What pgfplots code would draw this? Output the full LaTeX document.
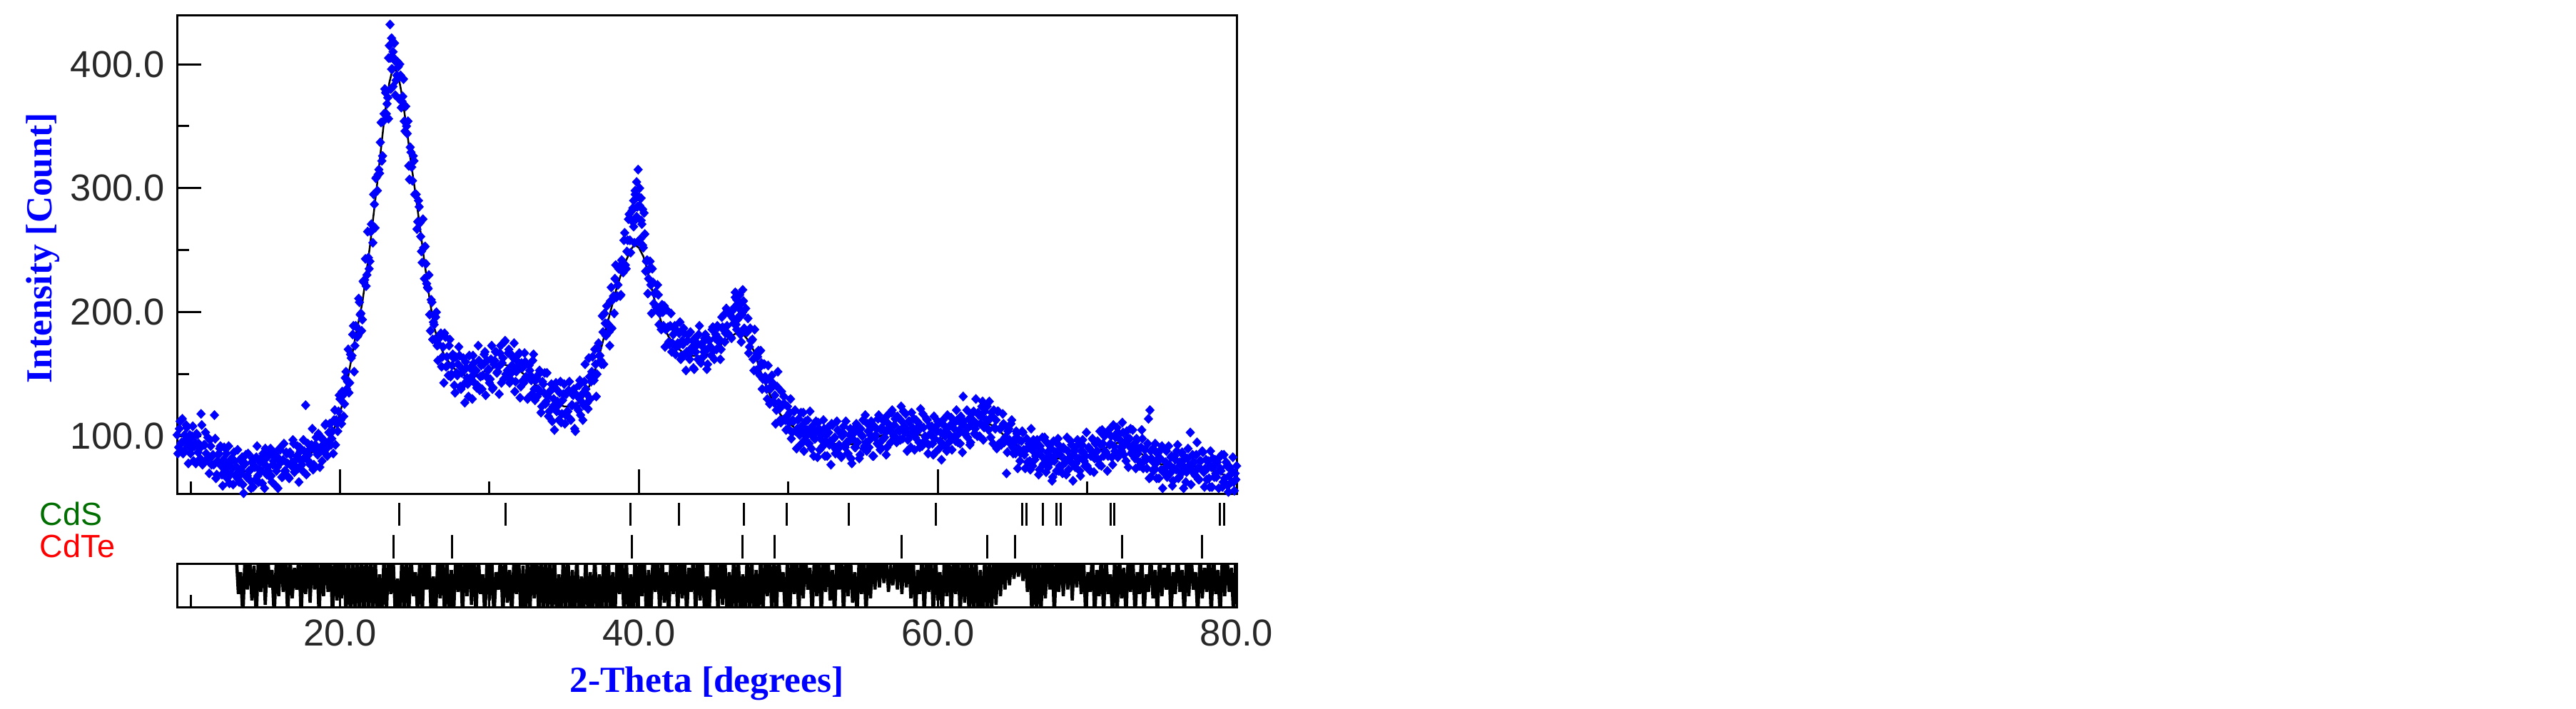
\documentclass[border=0pt]{standalone}
\usepackage{fontspec}
\setmainfont{Liberation Sans}
\newfontfamily\labfont{Liberation Serif}
\usepackage{pgfplots}
\pgfplotsset{compat=1.18}
\definecolor{cdsgreen}{RGB}{0,110,0}
\definecolor{tickgray}{RGB}{40,40,40}
\pgfplotsset{xrd/.style={scale only axis, width=297pt, xmin=9.09, xmax=80,
  tick align=inside, xtick pos=bottom, ytick pos=left,
  major tick length=6.8pt, minor tick length=3.4pt,
  axis line style={line width=0.6pt}, tick style={line width=0.6pt, black},
  tick label style={font=\fontsize{10.5}{12}\selectfont, text=tickgray},
  /pgf/number format/assume math mode=true},
  obs/.style={only marks, mark=diamond*, mark size=1.25pt, blue, mark options={xscale=1.25, draw=blue, fill=blue, line width=0.2pt}}}
\begin{document}
\begin{tikzpicture}
\useasboundingbox (0,0) rectangle (722pt,198.6pt);
% main pattern
\begin{axis}[xrd, at={(49.6pt,60.2pt)}, anchor=south west, height=134.06pt,
  ymin=53.7, ymax=439.3, xtick={20,40,60}, minor xtick={10,30,50,70}, xticklabels={},
  ytick={100,200,300,400}, minor ytick={150,250,350},
  yticklabel style={/pgf/number format/.cd, fixed, fixed zerofill, precision=1}]
\addplot[obs] coordinates {
(9.1,101)(9.2,91)(9.3,112)(9.4,95)(9.5,86)(9.6,101)(9.7,109)(9.8,92)(9.9,95)(10,86)
(10.1,100)(10.2,80)(10.3,95)(10.4,102)(10.5,87)(10.6,90)(10.7,118)(10.8,77)(10.9,93)(11,103)
(11.1,81)(11.2,83)(11.3,97)(11.4,77)(11.5,85)(11.6,117)(11.7,66)(11.8,80)(11.9,86)(12,92)
(12.1,69)(12.2,81)(12.3,72)(12.4,86)(12.5,75)(12.6,62)(12.7,80)(12.8,74)(12.9,87)(13,68)
(13.1,75)(13.2,65)(13.3,81)(13.4,70)(13.5,61)(13.6,77)(13.7,85)(13.8,68)(13.9,72)(14,64)
(14.1,79)(14.2,59)(14.3,75)(14.4,83)(14.5,68)(14.6,73)(14.7,82)(14.8,62)(14.9,78)(15,90)
(15.1,69)(15.2,72)(15.3,86)(15.4,68)(15.5,77)(15.6,83)(15.7,60)(15.8,75)(15.9,82)(16,89)
(16.1,67)(16.2,81)(16.3,72)(16.4,87)(16.5,78)(16.6,66)(16.7,85)(16.8,79)(16.9,94)(17,76)
(17.1,84)(17.2,74)(17.3,91)(17.4,80)(17.5,72)(17.6,88)(17.7,125)(17.8,81)(17.9,85)(18,77)
(18.1,93)(18.2,73)(18.3,90)(18.4,99)(18.5,85)(18.6,89)(18.7,99)(18.8,80)(18.9,97)(19,109)
(19.1,90)(19.2,95)(19.3,110)(19.4,93)(19.5,104)(19.6,113)(19.7,93)(19.8,110)(19.9,120)(20,130)
(20.1,110)(20.2,133)(20.3,126)(20.4,152)(20.5,144)(20.6,135)(20.7,166)(20.8,165)(20.9,189)(21,173)
(21.1,188)(21.2,181)(21.3,208)(21.4,199)(21.5,194)(21.6,224)(21.7,243)(21.8,230)(21.9,244)(22,241)
(22.1,271)(22.2,256)(22.3,287)(22.4,308)(22.5,298)(22.6,315)(22.7,337)(22.8,322)(22.9,354)(23,380)
(23.1,360)(23.2,373)(23.3,415)(23.4,380)(23.5,396)(23.6,405)(23.7,375)(23.8,391)(23.9,398)(24,400)
(24.1,365)(24.2,374)(24.3,354)(24.4,366)(24.5,344)(24.6,318)(24.7,333)(24.8,317)(24.9,326)(25,295)
(25.1,295)(25.2,273)(25.3,285)(25.4,261)(25.5,240)(25.6,252)(25.7,253)(25.8,223)(25.9,219)(26,198)
(26.1,210)(26.2,178)(26.3,190)(26.4,196)(26.5,173)(26.6,174)(26.7,182)(26.8,156)(26.9,172)(27,183)
(27.1,156)(27.2,157)(27.3,173)(27.4,148)(27.5,157)(27.6,163)(27.7,135)(27.8,151)(27.9,158)(28,165)
(28.1,138)(28.2,154)(28.3,142)(28.4,160)(28.5,147)(28.6,132)(28.7,155)(28.8,148)(28.9,165)(29,143)
(29.1,153)(29.2,141)(29.3,161)(29.4,148)(29.5,138)(29.6,158)(29.7,168)(29.8,148)(29.9,153)(30,143)
(30.1,162)(30.2,138)(30.3,158)(30.4,168)(30.5,151)(30.6,156)(30.7,167)(30.8,143)(30.9,163)(31,176)
(31.1,150)(31.2,153)(31.3,170)(31.4,146)(31.5,157)(31.6,163)(31.7,136)(31.8,152)(31.9,160)(32,167)
(32.1,140)(32.2,155)(32.3,143)(32.4,160)(32.5,147)(32.6,131)(32.7,153)(32.8,145)(32.9,161)(33,138)
(33.1,145)(33.2,132)(33.3,150)(33.4,136)(33.5,124)(33.6,142)(33.7,151)(33.8,128)(33.9,132)(34,120)
(34.1,137)(34.2,112)(34.3,130)(34.4,139)(34.5,120)(34.6,125)(34.7,135)(34.8,111)(34.9,129)(35,142)
(35.1,117)(35.2,120)(35.3,137)(35.4,114)(35.5,125)(35.6,133)(35.7,106)(35.8,124)(35.9,132)(36,141)
(36.1,117)(36.2,134)(36.3,125)(36.4,158)(36.5,134)(36.6,122)(36.7,148)(36.8,144)(36.9,164)(37,145)
(37.1,158)(37.2,150)(37.3,175)(37.4,165)(37.5,158)(37.6,184)(37.7,199)(37.8,181)(37.9,191)(38,184)
(38.1,209)(38.2,187)(38.3,213)(38.4,227)(38.5,212)(38.6,222)(38.7,237)(38.8,214)(38.9,239)(39,258)
(39.1,238)(39.2,249)(39.3,275)(39.4,258)(39.5,274)(39.6,284)(39.7,256)(39.8,275)(39.9,285)(40,293)
(40.1,259)(40.2,271)(40.3,252)(40.4,263)(40.5,241)(40.6,215)(40.7,235)(40.8,222)(40.9,235)(41,207)
(41.1,216)(41.2,202)(41.3,214)(41.4,199)(41.5,186)(41.6,200)(41.7,205)(41.8,186)(41.9,187)(42,176)
(42.1,189)(42.2,168)(42.3,182)(42.4,189)(42.5,172)(42.6,175)(42.7,183)(42.8,162)(42.9,177)(43,187)
(43.1,166)(43.2,168)(43.3,182)(43.4,162)(43.5,171)(43.6,177)(43.7,154)(43.8,168)(43.9,175)(44,182)
(44.1,160)(44.2,173)(44.3,164)(44.4,179)(44.5,169)(44.6,158)(44.7,177)(44.8,172)(44.9,186)(45,169)
(45.1,179)(45.2,170)(45.3,188)(45.4,178)(45.5,170)(45.6,188)(45.7,198)(45.8,183)(45.9,189)(46,182)
(46.1,198)(46.2,179)(46.3,195)(46.4,204)(46.5,190)(46.6,194)(46.7,203)(46.8,182)(46.9,198)(47,209)
(47.1,185)(47.2,184)(47.3,195)(47.4,172)(47.5,177)(47.6,178)(47.7,153)(47.8,164)(47.9,167)(48,169)
(48.1,149)(48.2,159)(48.3,146)(48.4,158)(48.5,145)(48.6,130)(48.7,146)(48.8,138)(48.9,149)(49,128)
(49.1,133)(49.2,121)(49.3,152)(49.4,122)(49.5,111)(49.6,125)(49.7,132)(49.8,113)(49.9,116)(50,106)
(50.1,119)(50.2,98)(50.3,113)(50.4,120)(50.5,104)(50.6,106)(50.7,114)(50.8,93)(50.9,108)(51,119)
(51.1,97)(51.2,100)(51.3,113)(51.4,94)(51.5,102)(51.6,108)(51.7,84)(51.8,98)(51.9,104)(52,111)
(52.1,89)(52.2,101)(52.3,92)(52.4,106)(52.5,96)(52.6,84)(52.7,103)(52.8,96)(52.9,110)(53,92)
(53.1,99)(53.2,89)(53.3,105)(53.4,93)(53.5,84)(53.6,100)(53.7,108)(53.8,91)(53.9,95)(54,86)
(54.1,101)(54.2,82)(54.3,98)(54.4,106)(54.5,91)(54.6,95)(54.7,105)(54.8,85)(54.9,101)(55,113)
(55.1,92)(55.2,95)(55.3,110)(55.4,91)(55.5,101)(55.6,107)(55.7,84)(55.8,99)(55.9,106)(56,114)
(56.1,92)(56.2,105)(56.3,97)(56.4,112)(56.5,103)(56.6,91)(56.7,110)(56.8,105)(56.9,119)(57,102)
(57.1,109)(57.2,99)(57.3,116)(57.4,105)(57.5,97)(57.6,112)(57.7,120)(57.8,103)(57.9,106)(58,97)
(58.1,112)(58.2,91)(58.3,107)(58.4,114)(58.5,99)(58.6,103)(58.7,111)(58.8,91)(58.9,107)(59,118)
(59.1,96)(59.2,99)(59.3,113)(59.4,93)(59.5,102)(59.6,108)(59.7,85)(59.8,98)(59.9,105)(60,112)
(60.1,90)(60.2,103)(60.3,94)(60.4,109)(60.5,100)(60.6,88)(60.7,107)(60.8,101)(60.9,115)(61,98)
(61.1,106)(61.2,96)(61.3,113)(61.4,102)(61.5,94)(61.6,110)(61.7,132)(61.8,102)(61.9,107)(62,99)
(62.1,114)(62.2,95)(62.3,111)(62.4,120)(62.5,106)(62.6,110)(62.7,119)(62.8,100)(62.9,116)(63,128)
(63.1,107)(63.2,110)(63.3,124)(63.4,105)(63.5,114)(63.6,119)(63.7,94)(63.8,107)(63.9,113)(64,120)
(64.1,94)(64.2,106)(64.3,96)(64.4,110)(64.5,99)(64.6,70)(64.7,104)(64.8,97)(64.9,110)(65,91)
(65.1,97)(65.2,86)(65.3,102)(65.4,90)(65.5,80)(65.6,96)(65.7,103)(65.8,85)(65.9,89)(66,79)
(66.1,94)(66.2,73)(66.3,89)(66.4,97)(66.5,81)(66.6,85)(66.7,93)(66.8,73)(66.9,89)(67,99)
(67.1,78)(67.2,81)(67.3,95)(67.4,75)(67.5,84)(67.6,90)(67.7,67)(67.8,80)(67.9,87)(68,94)
(68.1,72)(68.2,85)(68.3,76)(68.4,91)(68.5,81)(68.6,69)(68.7,88)(68.8,82)(68.9,96)(69,78)
(69.1,85)(69.2,75)(69.3,92)(69.4,81)(69.5,72)(69.6,88)(69.7,97)(69.8,80)(69.9,84)(70,76)
(70.1,91)(70.2,72)(70.3,88)(70.4,97)(70.5,82)(70.6,87)(70.7,96)(70.8,77)(70.9,93)(71,105)
(71.1,84)(71.2,88)(71.3,102)(71.4,84)(71.5,93)(71.6,100)(71.7,77)(71.8,92)(71.9,99)(72,107)
(72.1,84)(72.2,97)(72.3,88)(72.4,103)(72.5,93)(72.6,80)(72.7,99)(72.8,92)(72.9,106)(73,87)
(73.1,93)(73.2,82)(73.3,98)(73.4,86)(73.5,76)(73.6,91)(73.7,98)(73.8,80)(73.9,83)(74,74)
(74.1,114)(74.2,121)(74.3,82)(74.4,90)(74.5,74)(74.6,78)(74.7,86)(74.8,66)(74.9,82)(75,92)
(75.1,71)(75.2,74)(75.3,88)(75.4,69)(75.5,77)(75.6,83)(75.7,60)(75.8,74)(75.9,81)(76,88)
(76.1,66)(76.2,79)(76.3,70)(76.4,85)(76.5,75)(76.6,63)(76.7,82)(76.8,76)(76.9,103)(77,72)
(77.1,79)(77.2,69)(77.3,85)(77.4,74)(77.5,65)(77.6,80)(77.7,88)(77.8,71)(77.9,74)(78,65)
(78.1,80)(78.2,59)(78.3,75)(78.4,82)(78.5,67)(78.6,70)(78.7,79)(78.8,58)(78.9,74)(79,85)
(79.1,63)(79.2,66)(79.3,79)(79.4,60)(79.5,68)(79.6,73)(79.7,50)(79.8,63)(79.9,70)(80,76)
(23.35,432)(23.45,421)(23.55,410)(23.25,405)(23.65,403)(39.95,315)(39.85,305)(40.05,300)
(39.75,298)(40.15,292)(39.65,290)(40.25,283)(46.45,216)(46.75,214)(46.95,218)(46.55,210)(74.25,67)
};
\addplot[obs] coordinates {
(9.15,86)(9.25,106)(9.35,94)(9.45,114)(9.55,88)(9.65,97)(9.75,107)(9.85,78)(9.95,101)(10.05,90)
(10.15,108)(10.25,92)(10.35,78)(10.45,101)(10.55,94)(10.65,82)(10.75,109)(10.85,78)(10.95,93)(11.05,86)
(11.15,99)(11.25,70)(11.35,92)(11.45,84)(11.55,77)(11.65,98)(11.75,69)(11.85,85)(11.95,90)(12.05,76)
(12.15,60)(12.25,91)(12.35,79)(12.45,66)(12.55,92)(12.65,69)(12.75,82)(12.85,61)(12.95,80)(13.05,69)
(13.15,89)(13.25,63)(13.35,73)(13.45,83)(13.55,54)(13.65,78)(13.75,67)(13.85,86)(13.95,72)(14.05,58)
(14.15,82)(14.25,76)(14.35,65)(14.45,92)(14.55,63)(14.65,79)(14.75,72)(14.85,86)(14.95,58)(15.05,82)
(15.15,75)(15.25,68)(15.35,90)(15.45,63)(15.55,80)(15.65,86)(15.75,72)(15.85,58)(15.95,90)(16.05,79)
(16.15,67)(16.25,94)(16.35,72)(16.45,86)(16.55,67)(16.65,87)(16.75,76)(16.85,97)(16.95,71)(17.05,81)
(17.15,92)(17.25,63)(17.35,88)(17.45,77)(17.55,97)(17.65,83)(17.75,69)(17.85,94)(17.95,89)(18.05,78)
(18.15,106)(18.25,77)(18.35,93)(18.45,87)(18.55,102)(18.65,75)(18.75,99)(18.85,93)(18.95,87)(19.05,110)
(19.15,84)(19.25,103)(19.35,110)(19.45,98)(19.55,86)(19.65,121)(19.75,113)(19.85,104)(19.95,133)(20.05,113)
(20.15,136)(20.25,116)(20.35,147)(20.45,138)(20.55,170)(20.65,143)(20.75,163)(20.85,182)(20.95,152)(21.05,189)
(21.15,180)(21.25,211)(21.35,198)(21.45,185)(21.55,225)(21.65,226)(21.75,221)(21.85,265)(21.95,235)(22.05,265)
(22.15,266)(22.25,295)(22.35,268)(22.45,309)(22.55,311)(22.65,312)(22.75,353)(22.85,326)(22.95,360)(23.05,377)
(23.15,368)(23.25,356)(23.35,405)(23.45,396)(23.55,382)(23.65,417)(23.75,387)(23.85,402)(23.95,372)(24.05,391)
(24.15,370)(24.25,388)(24.35,346)(24.45,350)(24.55,354)(24.65,307)(24.75,329)(24.85,306)(24.95,322)(25.05,295)
(25.15,267)(25.25,290)(25.35,272)(25.45,249)(25.55,275)(25.65,227)(25.75,239)(25.85,220)(25.95,230)(26.05,185)
(26.15,208)(26.25,192)(26.35,178)(26.45,200)(26.55,161)(26.65,179)(26.75,183)(26.85,164)(26.95,143)(27.05,180)
(27.15,164)(27.25,149)(27.35,178)(27.45,150)(27.55,166)(27.65,141)(27.75,164)(27.85,149)(27.95,172)(28.05,140)
(28.15,151)(28.25,163)(28.35,127)(28.45,155)(28.55,142)(28.65,165)(28.75,147)(28.85,130)(28.95,159)(29.05,152)
(29.15,139)(29.25,173)(29.35,137)(29.45,157)(29.55,149)(29.65,166)(29.75,133)(29.85,161)(29.95,154)(30.05,146)
(30.15,173)(30.25,139)(30.35,161)(30.45,168)(30.55,152)(30.65,134)(30.75,173)(30.85,159)(30.95,146)(31.05,177)
(31.15,150)(31.25,167)(31.35,143)(31.45,166)(31.55,152)(31.65,175)(31.75,144)(31.85,155)(31.95,166)(32.05,131)
(32.15,159)(32.25,145)(32.35,167)(32.45,148)(32.55,130)(32.65,157)(32.75,149)(32.85,134)(32.95,166)(33.05,129)
(33.15,147)(33.25,138)(33.35,153)(33.45,119)(33.55,144)(33.65,135)(33.75,126)(33.85,151)(33.95,116)(34.05,136)
(34.15,142)(34.25,124)(34.35,105)(34.45,143)(34.55,128)(34.65,113)(34.75,144)(34.85,118)(34.95,134)(35.05,110)
(35.15,134)(35.25,120)(35.35,144)(35.45,113)(35.55,125)(35.65,138)(35.75,104)(35.85,133)(35.95,121)(36.05,145)
(36.15,128)(36.25,113)(36.35,144)(36.45,138)(36.55,127)(36.65,163)(36.75,130)(36.85,152)(36.95,147)(37.05,170)
(37.15,132)(37.25,171)(37.35,165)(37.45,161)(37.55,197)(37.65,158)(37.75,191)(37.85,205)(37.95,189)(38.05,173)
(38.15,220)(38.25,210)(38.35,199)(38.45,238)(38.55,213)(38.65,235)(38.75,213)(38.85,242)(38.95,232)(39.05,264)
(39.15,235)(39.25,258)(39.35,279)(39.45,248)(39.55,282)(39.65,269)(39.75,295)(39.85,277)(39.95,257)(40.05,286)
(40.15,274)(40.25,254)(40.35,280)(40.45,233)(40.55,242)(40.65,227)(40.75,241)(40.85,199)(40.95,224)(41.05,215)
(41.15,204)(41.25,222)(41.35,190)(41.45,203)(41.55,206)(41.65,189)(41.75,172)(41.85,202)(41.95,188)(42.05,174)
(42.15,199)(42.25,175)(42.35,187)(42.45,166)(42.55,185)(42.65,173)(42.75,192)(42.85,165)(42.95,174)(43.05,183)
(43.15,153)(43.25,177)(43.35,166)(43.45,184)(43.55,169)(43.65,155)(43.75,179)(43.85,173)(43.95,162)(44.05,189)
(44.15,159)(44.25,175)(44.35,168)(44.45,182)(44.55,154)(44.65,178)(44.75,172)(44.85,165)(44.95,188)(45.05,162)
(45.15,182)(45.25,189)(45.35,176)(45.45,162)(45.55,196)(45.65,186)(45.75,176)(45.85,203)(45.95,183)(46.05,199)
(46.15,180)(46.25,201)(46.35,191)(46.45,212)(46.55,186)(46.65,196)(46.75,206)(46.85,176)(46.95,200)(47.05,187)
(47.15,203)(47.25,184)(47.35,167)(47.45,187)(47.55,177)(47.65,162)(47.75,186)(47.85,153)(47.95,164)(48.05,155)
(48.15,169)(48.25,138)(48.35,158)(48.45,148)(48.55,138)(48.65,157)(48.75,126)(48.85,140)(48.95,143)(49.05,127)
(49.15,110)(49.25,140)(49.35,127)(49.45,113)(49.55,136)(49.65,113)(49.75,126)(49.85,105)(49.95,124)(50.05,111)
(50.15,130)(50.25,103)(50.35,112)(50.45,121)(50.55,90)(50.65,113)(50.75,101)(50.85,119)(50.95,103)(51.05,88)
(51.15,112)(51.25,105)(51.35,94)(51.45,120)(51.55,90)(51.65,105)(51.75,98)(51.85,112)(51.95,83)(52.05,106)
(52.15,98)(52.25,91)(52.35,113)(52.45,84)(52.55,101)(52.65,107)(52.75,93)(52.85,77)(52.95,109)(53.05,98)
(53.15,86)(53.25,112)(53.35,90)(53.45,103)(53.55,83)(53.65,103)(53.75,92)(53.85,112)(53.95,86)(54.05,96)
(54.15,106)(54.25,78)(54.35,102)(54.45,91)(54.55,110)(54.65,95)(54.75,82)(54.85,106)(54.95,100)(55.05,90)
(55.15,117)(55.25,88)(55.35,104)(55.45,97)(55.55,112)(55.65,84)(55.75,108)(55.85,101)(55.95,94)(56.05,117)
(56.15,89)(56.25,107)(56.35,113)(56.45,99)(56.55,85)(56.65,117)(56.75,107)(56.85,95)(56.95,121)(57.05,100)
(57.15,114)(57.25,95)(57.35,115)(57.45,104)(57.55,124)(57.65,98)(57.75,108)(57.85,118)(57.95,88)(58.05,112)
(58.15,100)(58.25,119)(58.35,104)(58.45,89)(58.55,113)(58.65,107)(58.75,95)(58.85,122)(58.95,92)(59.05,107)
(59.15,100)(59.25,114)(59.35,86)(59.45,108)(59.55,101)(59.65,94)(59.75,116)(59.85,87)(59.95,104)(60.05,110)
(60.15,96)(60.25,81)(60.35,113)(60.45,103)(60.55,91)(60.65,117)(60.75,95)(60.85,109)(60.95,89)(61.05,110)
(61.15,100)(61.25,121)(61.35,95)(61.45,105)(61.55,116)(61.65,87)(61.75,112)(61.85,102)(61.95,121)(62.05,107)
(62.15,93)(62.25,118)(62.35,113)(62.45,102)(62.55,130)(62.65,100)(62.75,117)(62.85,110)(62.95,124)(63.05,97)
(63.15,120)(63.25,113)(63.35,106)(63.45,128)(63.55,99)(63.65,116)(63.75,121)(63.85,106)(63.95,90)(64.05,120)
(64.15,106)(64.25,93)(64.35,118)(64.45,95)(64.55,108)(64.65,87)(64.75,106)(64.85,94)(64.95,113)(65.05,86)
(65.15,95)(65.25,104)(65.35,74)(65.45,97)(65.55,86)(65.65,104)(65.75,89)(65.85,74)(65.95,98)(66.05,91)
(66.15,80)(66.25,106)(66.35,76)(66.45,91)(66.55,84)(66.65,97)(66.75,69)(66.85,92)(66.95,84)(67.05,77)
(67.15,99)(67.25,71)(67.35,87)(67.45,93)(67.55,79)(67.65,64)(67.75,96)(67.85,84)(67.95,72)(68.05,98)
(68.15,76)(68.25,90)(68.35,70)(68.45,90)(68.55,79)(68.65,99)(68.75,73)(68.85,83)(68.95,93)(69.05,64)
(69.15,88)(69.25,78)(69.35,97)(69.45,82)(69.55,68)(69.65,93)(69.75,87)(69.85,76)(69.95,103)(70.05,74)
(70.15,90)(70.25,84)(70.35,98)(70.45,71)(70.55,94)(70.65,88)(70.75,81)(70.85,104)(70.95,76)(71.05,94)
(71.15,100)(71.25,87)(71.35,72)(71.45,105)(71.55,94)(71.65,83)(71.75,109)(71.85,88)(71.95,102)(72.05,83)
(72.15,102)(72.25,91)(72.35,111)(72.45,85)(72.55,95)(72.65,104)(72.75,75)(72.85,98)(72.95,86)(73.05,105)
(73.15,89)(73.25,74)(73.35,97)(73.45,90)(73.55,79)(73.65,105)(73.75,74)(73.85,89)(73.95,81)(74.05,94)
(74.15,66)(74.25,88)(74.35,80)(74.45,72)(74.55,94)(74.65,66)(74.75,82)(74.85,88)(74.95,73)(75.05,58)
(75.15,90)(75.25,79)(75.35,67)(75.45,92)(75.55,70)(75.65,84)(75.75,64)(75.85,84)(75.95,73)(76.05,93)
(76.15,67)(76.25,77)(76.35,87)(76.45,58)(76.55,82)(76.65,71)(76.75,90)(76.85,75)(76.95,61)(77.05,85)
(77.15,79)(77.25,68)(77.35,95)(77.45,65)(77.55,80)(77.65,73)(77.75,87)(77.85,59)(77.95,81)(78.05,74)
(78.15,66)(78.25,88)(78.35,59)(78.45,76)(78.55,81)(78.65,67)(78.75,52)(78.85,83)(78.95,72)(79.05,59)
(79.15,85)(79.25,62)(79.35,76)(79.45,55)(79.55,75)(79.65,63)(79.75,83)(79.85,56)(79.95,65)
};
% calculated profile
\addplot[black, line width=0.5pt] coordinates {
(13,70.5)(14,72)(15,74.5)(16,77)(17,80)(17.5,82.5)(18,86)(18.5,89.5)(19,94)(19.5,103)
(20,118)(20.5,145)(21,178)(21.5,208)(22,253)(22.5,305)(23,360)(23.3,385)(23.5,395)(23.7,396)
(23.9,391)(24.1,378)(24.3,362)(24.5,345)(24.7,325)(25,300)(25.3,273)(25.6,245)(26,210)(26.3,188)
(26.6,175)(27,165)(27.5,156)(28,151)(28.5,148)(29,148)(29.5,151)(30,154)(30.5,156.5)(31,157.7)
(31.5,156)(32,153)(32.5,148)(33,142.5)(33.5,137)(34,131)(34.5,126)(35,124)(35.5,124)(36,127)
(36.5,135)(37,150)(37.5,172)(38,196)(38.5,219)(39,238)(39.5,251)(39.7,254.5)(40,252)(40.3,245)
(40.5,237)(41,212)(41.5,192)(42,180)(42.5,172)(43,167)(43.5,165)(44,164.5)(44.5,165)(45,168)
(45.5,174)(46,179)(46.5,183)(47,182)(47.4,176)(47.8,166)(48,157)(48.5,141)(49,127)(49.5,117)
(50,111)(50.5,106)(51,101.5)(51.5,99)(52,97)(52.5,95)(53,94)(53.5,93.3)(54,93.2)(54.5,94)
(55,95.5)(55.5,97.5)(56,99.5)(56.5,101.5)(57,103.5)(57.5,105.5)(58,104)(58.5,102)(59,100.5)(59.5,99)
(60,98)(60.5,98.5)(61,99.5)(61.5,101.5)(62,104.5)(62.5,107.5)(63,109.5)(63.3,110.3)(63.6,109)(64,105.5)
(64.5,100)(65,95)(65.5,91)(66,88.4)(66.5,86)(67,84.2)(67.5,83)(68,82)(68.5,81.7)(69,82)
(69.5,83)(70,84.5)(70.5,87)(71,89.5)(71.5,92)(72,94.5)(72.5,94)(73,91)(73.5,87)(74,82.5)
(74.5,79)(75,77.2)(75.5,76.3)(76,76)(77,76)(77.5,75.5)(78,74)(78.5,71.5)(79,69.5)(79.5,67)(80,64)
};
\end{axis}
% reflection markers
\begin{axis}[scale only axis, width=297pt, height=17.6pt, at={(49.6pt,41pt)}, anchor=south west,
  xmin=9.09, xmax=80, ymin=0, ymax=88, hide axis, clip=false]
\addplot[only marks, mark=|, mark size=3.2pt, mark options={line width=0.6pt, black}] coordinates {
(23.97,67)(31.09,67)(39.43,67)(42.7,67)(47.01,67)(49.88,67)(54.05,67)(59.86,67)(65.65,67)(65.92,67)
(67.03,67)(67.96,67)(68.24,67)(71.55,67)(71.83,67)(78.88,67)(79.18,67)};
\addplot[only marks, mark=|, mark size=3.3pt, mark options={line width=0.6pt, black}] coordinates {
(23.6,21.5)(27.5,21.5)(39.54,21.5)(46.94,21.5)(49.09,21.5)(57.59,21.5)(63.33,21.5)(65.16,21.5)(72.33,21.5)(77.68,21.5)};
\end{axis}
% difference curve
\begin{axis}[xrd, at={(49.6pt,28.4pt)}, anchor=south west, height=12.2pt,
  ymin=-1, ymax=1, ytick=\empty, xtick={20,40,60,80}, minor xtick={10,30,50,70},
  xticklabel style={/pgf/number format/.cd, fixed, fixed zerofill, precision=1}]
\addplot[black, line width=0.9pt] coordinates {
(13.05,1.5)(13.2,-0.4)(13.35,0.6)(13.5,-1.5)(13.65,1.5)(13.8,-0.2)(13.95,1.5)(14.1,-0.7)(14.25,0.9)(14.4,-1.5)(14.55,1.5)(14.7,-0.3)(14.85,1.5)(15,-0.9)(15.15,1.5)(15.3,-0.1)(15.45,0.7)(15.6,-1.5)(15.75,1.5)(15.9,-0.5)
(16.05,1.5)(16.2,-0.3)(16.35,1.5)(16.5,-1.5)(16.65,1.5)(16.8,-0.6)(16.95,0.8)(17.1,-0.2)(17.25,1.5)(17.4,-1.5)(17.55,1.5)(17.7,-0.4)(17.85,1.5)(18,-0.8)(18.15,1.5)(18.3,-0.2)(18.45,1.5)(18.6,-1.5)(18.75,1.5)(18.9,-0.5)
(19.05,1.5)(19.2,-0.3)(19.35,1.5)(19.5,-1.5)(19.65,1.5)(19.8,-0.7)(19.95,1.5)(20.1,-0.6)(20.25,1.5)(20.4,-1.5)(20.55,1.5)(20.7,-1.5)(20.85,1.5)(21,-1.5)(21.15,1.5)(21.3,-1.5)(21.45,1.5)(21.6,-1.5)(21.75,1.5)(21.9,-1.5)
(22.05,1.5)(22.2,-1.5)(22.35,1.5)(22.5,-1.5)(22.65,0.5)(22.8,-1.5)(22.95,1.5)(23.1,-1.5)(23.25,1.5)(23.4,-0.4)(23.55,1.5)(23.7,-1.5)(23.85,0.3)(24,-1.5)(24.15,1.5)(24.3,-1.5)(24.45,1.5)(24.6,-1.5)(24.75,1.5)(24.9,-0.5)
(25.05,0.6)(25.2,-1.5)(25.35,1.5)(25.5,-1.5)(25.65,1.5)(25.8,-0.2)(25.95,1.5)(26.1,-1.5)(26.25,0.4)(26.4,-1.5)(26.55,1.5)(26.7,-0.6)(26.85,1.5)(27,-1.5)(27.15,1.5)(27.3,-1.5)(27.45,0.7)(27.6,-1.5)(27.75,1.5)(27.9,-0.3)
(28.05,1.5)(28.2,-1.5)(28.35,1.5)(28.5,-0.5)(28.65,1.5)(28.8,-0.9)(28.95,1.5)(29.1,-1.5)(29.25,1.5)(29.4,-0.4)(29.55,0.5)(29.7,-1.5)(29.85,1.5)(30,-0.7)(30.15,1.5)(30.3,-1.5)(30.45,0.6)(30.6,-0.2)(30.75,1.5)(30.9,-1.5)
(31.05,1.5)(31.2,-0.8)(31.35,0.7)(31.5,-1.5)(31.65,1.5)(31.8,-0.4)(31.95,1.5)(32.1,-1.5)(32.25,0.9)(32.4,-1.5)(32.55,1.5)(32.7,-1.5)(32.85,1.5)(33,-0.6)(33.15,1.5)(33.3,-1.5)(33.45,1.5)(33.6,-1.5)(33.75,1.5)(33.9,-1.5)
(34.05,1.5)(34.2,-1.5)(34.35,1.5)(34.5,-1.5)(34.65,0.5)(34.8,-1.5)(34.95,1.5)(35.1,-1.5)(35.25,1.5)(35.4,-1.5)(35.55,0.7)(35.7,-1.5)(35.85,1.5)(36,-1.5)(36.15,0.4)(36.3,-1.5)(36.45,1.5)(36.6,-1.5)(36.75,0.6)(36.9,-1.5)
(37.05,1.5)(37.2,-1.5)(37.35,0.5)(37.5,-1.5)(37.65,1.5)(37.8,-1.5)(37.95,1.5)(38.1,-1.5)(38.25,0.6)(38.4,-1.5)(38.55,1.5)(38.7,-0.4)(38.85,1.5)(39,-1.5)(39.15,1.5)(39.3,-1.5)(39.45,0.5)(39.6,-1.5)(39.75,1.5)(39.9,-1.5)
(40.05,1.5)(40.2,-0.5)(40.35,1.5)(40.5,-1.5)(40.65,0.7)(40.8,-1.5)(40.95,1.5)(41.1,-0.3)(41.25,1.5)(41.4,-1.5)(41.55,1.5)(41.7,-0.8)(41.85,0.6)(42,-1.5)(42.15,1.5)(42.3,-0.4)(42.45,1.5)(42.6,-1.5)(42.75,1.5)(42.9,-0.6)
(43.05,1.5)(43.2,-1.5)(43.35,0.8)(43.5,-0.3)(43.65,1.5)(43.8,-1.5)(43.95,1.5)(44.1,-0.7)(44.25,1.5)(44.4,-1.5)(44.55,0.4)(44.7,-1.5)(44.85,1.5)(45,-0.2)(45.15,1.5)(45.3,-1.5)(45.45,1.5)(45.6,-0.9)(45.75,1.5)(45.9,-1.5)
(46.05,0.6)(46.2,-1.5)(46.35,1.5)(46.5,-1.5)(46.65,1.5)(46.8,-1.5)(46.95,0.5)(47.1,-1.5)(47.25,1.5)(47.4,-1.5)(47.55,1.5)(47.7,-1.5)(47.85,0.7)(48,-1.5)(48.15,1.5)(48.3,-1.5)(48.45,1.5)(48.6,-0.5)(48.75,1.5)(48.9,-1.5)
(49.05,1.5)(49.2,-1.5)(49.35,1.5)(49.5,-0.3)(49.65,0.6)(49.8,-1.5)(49.95,1.5)(50.1,-1.5)(50.25,1.5)(50.4,-0.4)(50.55,1.5)(50.7,-1.5)(50.85,1.5)(51,-0.6)(51.15,1.5)(51.3,-0.2)(51.45,0.8)(51.6,-1.5)(51.75,1.5)(51.9,-0.5)
(52.05,1.5)(52.2,-1.5)(52.35,1.5)(52.5,-0.3)(52.65,1.5)(52.8,-0.7)(52.95,0.7)(53.1,-1.5)(53.25,1.5)(53.4,-0.2)(53.55,1.5)(53.7,-1.5)(53.85,1.5)(54,-0.5)(54.15,1.5)(54.3,-0.8)(54.45,0.6)(54.6,-1.5)(54.75,1.5)(54.9,-0.4)
(55.05,1.5)(55.2,-1.5)(55.35,1.5)(55.5,-0.6)(55.65,1.5)(55.8,-0.2)(55.95,1.5)(56.1,-0.1)(56.25,1.5)(56.4,0.1)(56.55,1.5)(56.7,-0.3)(56.85,0.8)(57,0)(57.15,1.5)(57.3,-0.2)(57.45,1.5)(57.6,-0.4)(57.75,1.5)(57.9,-0.1)
(58.05,1.5)(58.2,-0.6)(58.35,1.5)(58.5,-1.5)(58.65,0.7)(58.8,-0.4)(58.95,1.5)(59.1,-1.5)(59.25,1.5)(59.4,-0.3)(59.55,1.5)(59.7,-1.5)(59.85,1.5)(60,-0.7)(60.15,0.6)(60.3,-1.5)(60.45,1.5)(60.6,-0.5)(60.75,1.5)(60.9,-1.5)
(61.05,1.5)(61.2,-0.4)(61.35,1.5)(61.5,-1.5)(61.65,1.5)(61.8,-0.8)(61.95,1.5)(62.1,-1.5)(62.25,1.5)(62.4,-1.5)(62.55,1.5)(62.7,-1.5)(62.85,0.7)(63,-1.5)(63.15,1.5)(63.3,-1.5)(63.45,1.5)(63.6,-1.5)(63.75,1.5)(63.9,-0.9)
(64.05,1.5)(64.2,-0.5)(64.35,1.5)(64.5,-0.2)(64.65,1.5)(64.8,0)(64.95,1.5)(65.1,0.3)(65.25,1.5)(65.4,0.4)(65.55,1.5)(65.7,0.2)(65.85,1.5)(66,-0.3)(66.15,1.5)(66.3,-1.5)(66.45,1.5)(66.6,-1.5)(66.75,1.5)(66.9,-1.5)
(67.05,1.5)(67.2,-0.6)(67.35,1.5)(67.5,-0.2)(67.65,1.5)(67.8,-1.5)(67.95,1.5)(68.1,-0.3)(68.25,1.5)(68.4,-0.5)(68.55,1.5)(68.7,-0.2)(68.85,1.5)(69,-0.7)(69.15,1.5)(69.3,-0.1)(69.45,1.5)(69.6,-0.4)(69.75,1.5)(69.9,-1.5)
(70.05,0.6)(70.2,-0.3)(70.35,1.5)(70.5,-1.5)(70.65,0.7)(70.8,-0.5)(70.95,1.5)(71.1,-1.5)(71.25,1.5)(71.4,-0.4)(71.55,0.5)(71.7,-1.5)(71.85,1.5)(72,-1.5)(72.15,1.5)(72.3,-0.6)(72.45,0.8)(72.6,-1.5)(72.75,1.5)(72.9,-0.3)
(73.05,1.5)(73.2,-1.5)(73.35,0.6)(73.5,-0.4)(73.65,1.5)(73.8,-1.5)(73.95,0.5)(74.1,-0.3)(74.25,1.5)(74.4,-0.6)(74.55,0.7)(74.7,-1.5)(74.85,1.5)(75,-0.5)(75.15,0.8)(75.3,-0.2)(75.45,1.5)(75.6,-1.5)(75.75,0.6)(75.9,-0.4)
(76.05,1.5)(76.2,-0.3)(76.35,0.7)(76.5,-1.5)(76.65,1.5)(76.8,-0.5)(76.95,1.5)(77.1,-0.2)(77.25,0.6)(77.4,-1.5)(77.55,1.5)(77.7,-0.6)(77.85,0.8)(78,-0.3)(78.15,1.5)(78.3,-1.5)(78.45,1.5)(78.6,-0.4)(78.75,0.7)(78.9,-1.5)
(79.05,1.5)(79.2,-0.5)(79.35,1.5)(79.5,-0.3)(79.65,0.8)(79.8,-1.5)(79.95,1.5)(80.1,-0.5)
};
\end{axis}
\node[font=\fontsize{9}{10}\selectfont, text=cdsgreen, anchor=west, inner sep=0pt] at (11pt,54.6pt) {CdS};
\node[font=\fontsize{9}{10}\selectfont, text=red, anchor=west, inner sep=0pt] at (11pt,45.6pt) {CdTe};
\node[font=\labfont\bfseries\fontsize{10.3}{12}\selectfont, text=blue, anchor=base, inner sep=0pt] at (198.1pt,4.6pt) {2-Theta [degrees]};
\node[font=\labfont\bfseries\fontsize{10.3}{12}\selectfont, text=blue, rotate=90, inner sep=0pt] at (12pt,129pt) {Intensity [Count]};
\end{tikzpicture}
\end{document}
